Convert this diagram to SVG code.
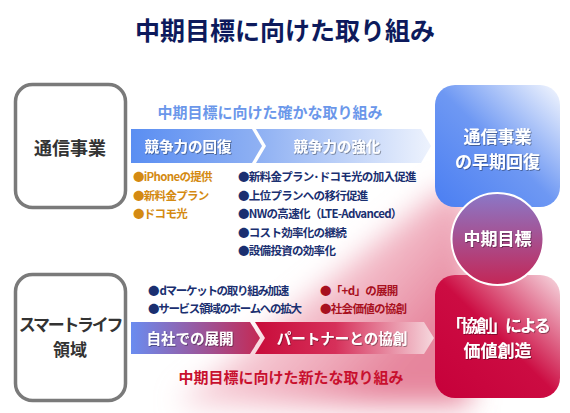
<svg xmlns="http://www.w3.org/2000/svg" width="570" height="413" viewBox="0 0 570 413">
<style>
  text { font-family: "Noto Sans CJK JP", "Noto Sans", sans-serif; font-weight: bold; }
  .title { font-size: 25px; fill: #0d1a5c; text-anchor: middle; }
  .sect { font-size: 18px; fill: #333; text-anchor: middle; }
  .sect2 { font-size: 17px; fill: #333; text-anchor: middle; }
  .box { fill: #fff; stroke: #7a7a7a; stroke-width: 3.5; }
  .band { font-size: 14.5px; fill: #fff; text-anchor: middle; filter: url(#sh); }
  .goal { font-size: 17px; fill: #fff; text-anchor: middle; filter: url(#sh); }
  .lbl { font-size: 15px; text-anchor: middle; }
  .bul { font-size: 11.5px; letter-spacing: -0.7px; }
  .bul2 { font-size: 11.5px; letter-spacing: -1.3px; }
  .or { fill: #d48a12; }
  .nv { fill: #1a2f70; }
  .rd { fill: #a8101e; }
</style>
<defs>
  <filter id="sh" x="-10%" y="-20%" width="120%" height="140%">
    <feDropShadow dx="0.8" dy="0.8" stdDeviation="0.6" flood-color="#000" flood-opacity="0.45"/>
  </filter>
  <filter id="blur" x="-30%" y="-30%" width="160%" height="160%">
    <feGaussianBlur stdDeviation="14"/>
  </filter>
  <linearGradient id="gTop" gradientUnits="userSpaceOnUse" x1="131" y1="0" x2="432" y2="0">
    <stop offset="0" stop-color="#5a8ef2"/>
    <stop offset="0.42" stop-color="#8eb0f3"/>
    <stop offset="1" stop-color="#eef3fd"/>
  </linearGradient>
  <linearGradient id="gBot1" gradientUnits="userSpaceOnUse" x1="131" y1="0" x2="260" y2="0">
    <stop offset="0" stop-color="#6a8cf0"/>
    <stop offset="1" stop-color="#c42a55"/>
  </linearGradient>
  <linearGradient id="gBot2" gradientUnits="userSpaceOnUse" x1="255" y1="0" x2="434" y2="0">
    <stop offset="0" stop-color="#c80c3a"/>
    <stop offset="0.45" stop-color="#d6305a"/>
    <stop offset="1" stop-color="#f6d8de"/>
  </linearGradient>
  <linearGradient id="gBoxB" x1="0" y1="1" x2="1" y2="0">
    <stop offset="0" stop-color="#4a7ef2"/>
    <stop offset="0.5" stop-color="#6e98f3"/>
    <stop offset="1" stop-color="#f4f7fe"/>
  </linearGradient>
  <linearGradient id="gBoxR" x1="0" y1="1" x2="1" y2="0">
    <stop offset="0" stop-color="#c6003a"/>
    <stop offset="0.5" stop-color="#cc0c42"/>
    <stop offset="1" stop-color="#f7dbe2"/>
  </linearGradient>
  <linearGradient id="gCirc" x1="0" y1="0" x2="0" y2="1">
    <stop offset="0" stop-color="#8a78c8"/>
    <stop offset="1" stop-color="#c42656"/>
  </linearGradient>
  <linearGradient id="gPink" gradientUnits="userSpaceOnUse" x1="320" y1="250" x2="420" y2="340">
    <stop offset="0" stop-color="#f2b4c2" stop-opacity="0.6"/>
    <stop offset="1" stop-color="#e47892" stop-opacity="0.9"/>
  </linearGradient>
</defs>

<rect width="570" height="413" fill="#fff"/>

<g id="swath">
  <path d="M180 400 L440 190 L470 190 L470 405 L180 405 Z" fill="url(#gPink)" filter="url(#blur)"/>
</g>

<g id="title">
  <text class="title" x="285" y="40">中期目標に向けた取り組み</text>
</g>

<g id="node-tsushin">
  <rect class="box" x="15.5" y="84.5" width="110" height="123" rx="17"/>
  <text class="sect" x="70" y="154.5">通信事業</text>
</g>

<g id="node-smartlife">
  <rect class="box" x="15.5" y="274.5" width="110" height="126" rx="17"/>
  <text class="sect2" x="70" y="331.2" letter-spacing="-2.3">スマートライフ</text>
  <text class="sect2" x="70" y="356">領域</text>
</g>

<g id="label-top">
  <text class="lbl" x="270" y="117.5" fill="#6b97ea">中期目標に向けた確かな取り組み</text>
</g>

<g id="connectors">
  <polygon points="131,129 252,129 262,146 252,163 131,163" fill="url(#gTop)"/>
  <polygon points="256,129 421,129 431,146 421,163 256,163 266,146" fill="url(#gTop)"/>
  <polygon points="131,322 250,322 260,338 250,354 131,354" fill="url(#gBot1)"/>
  <polygon points="255,322 424,322 434,338 424,354 255,354 265,338" fill="url(#gBot2)"/>
  <text class="band" x="188" y="151.5">競争力の回復</text>
  <text class="band" x="337" y="151.5">競争力の強化</text>
  <text class="band" x="190" y="343.5">自社での展開</text>
  <text class="band" x="342" y="343.5">パートナーとの協創</text>
</g>

<g id="bullets-top">
  <text class="bul or" x="133" y="181">●iPhoneの提供</text>
  <text class="bul or" x="133" y="199.5">●新料金プラン</text>
  <text class="bul or" x="133" y="218">●ドコモ光</text>
  <text class="bul nv" x="238" y="181">●新料金プラン･ドコモ光の加入促進</text>
  <text class="bul nv" x="238" y="199.5">●上位プランへの移行促進</text>
  <text class="bul nv" x="238" y="218">●NWの高速化（LTE-Advanced）</text>
  <text class="bul nv" x="238" y="236.5">●コスト効率化の継続</text>
  <text class="bul nv" x="238" y="255">●設備投資の効率化</text>
</g>

<g id="bullets-bottom">
  <text class="bul2 nv" x="148" y="294.5">●&#160;dマーケットの取り組み加速</text>
  <text class="bul2 nv" x="148" y="312.5">●サービス領域のホームへの拡大</text>
  <text class="bul rd" x="320" y="294.5">●「+d」の展開</text>
  <text class="bul rd" x="320" y="312.5">●社会価値の協創</text>
</g>

<g id="label-bottom">
  <text class="lbl" x="291" y="382.5" fill="#c8102e">中期目標に向けた新たな取り組み</text>
</g>

<g id="node-recovery">
  <rect x="435" y="85" width="125" height="122" rx="20" fill="url(#gBoxB)"/>
  <text class="goal" x="497.5" y="143.2">通信事業</text>
  <text class="goal" x="497.5" y="168">の早期回復</text>
</g>

<g id="node-cocreation">
  <rect x="435" y="275" width="125" height="123" rx="20" fill="url(#gBoxR)"/>
  <text class="goal" x="497.5" y="331.7" letter-spacing="-2.3">「協創」による</text>
  <text class="goal" x="497.5" y="356.5">価値創造</text>
</g>

<g id="node-goal">
  <circle cx="497.5" cy="239" r="46" fill="url(#gCirc)" stroke="#fff" stroke-width="2"/>
  <text class="goal" x="497.5" y="245">中期目標</text>
</g>
</svg>
